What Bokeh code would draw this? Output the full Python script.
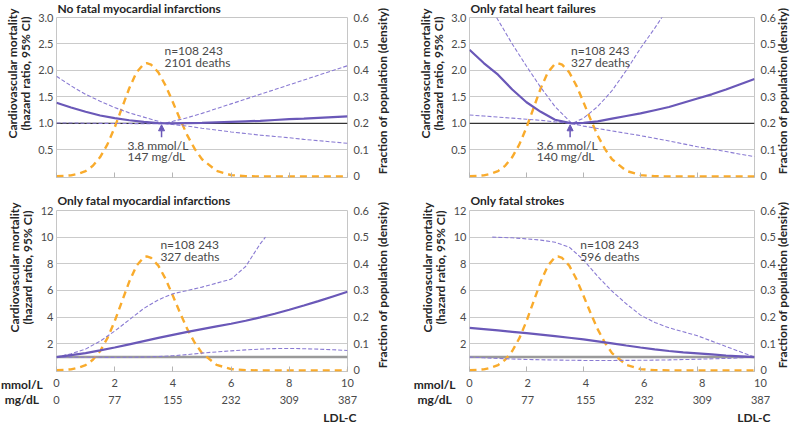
from math import pi
from bokeh.plotting import figure
from bokeh.models import (Range1d, LinearAxis, FixedTicker, NumeralTickFormatter,
                          Label, Span, Arrow, NormalHead, Title)
from bokeh.core.properties import value
from bokeh.layouts import column, row
from bokeh.embed import file_html
from bokeh.resources import INLINE

FONT = "Lato"
PURPLE = "#6a58b8"
PURPLE_CI = "#8a7bd3"
ORANGE = "#f9ab2c"
GRID = "#cbcbcb"
TXT = "#4a4a4a"
DARK = "#262626"

# ---------------- data ----------------
# population density of LDL-C (mmol/L) - same in all panels
dens_x = [0, 0.25, 0.5, 0.75, 1.0, 1.25, 1.5, 1.75, 2.0, 2.25, 2.5, 2.75, 3.0, 3.1,
          3.25, 3.5, 3.75, 4.0, 4.25, 4.5, 4.75, 5.0, 5.5, 6.0, 6.5, 7.0, 8.0, 9.0, 10.0]
dens_y = [0.001, 0.002, 0.004, 0.010, 0.020, 0.040, 0.073, 0.121, 0.185, 0.259, 0.333, 0.393,
          0.425, 0.4275, 0.422, 0.393, 0.343, 0.280, 0.215, 0.154, 0.104, 0.065, 0.021,
          0.005, 0.001, 0.0, 0.0, 0.0, 0.0]

# No fatal myocardial infarctions
nfmi_x = [0, 0.5, 1, 1.5, 2, 2.5, 3, 3.5, 4, 4.5, 5, 5.5, 6, 6.5, 7, 7.5, 8, 8.5, 9, 9.5, 10]
nfmi_hr = [1.39, 1.30, 1.22, 1.15, 1.10, 1.06, 1.03, 1.005, 1.00, 1.005, 1.01, 1.02, 1.03,
           1.04, 1.05, 1.065, 1.08, 1.09, 1.105, 1.12, 1.135]
nfmi_ci_x = [0, 0.5, 1, 1.5, 2, 2.5, 3, 3.5, 3.7, 4, 4.5, 5, 5.5, 6, 6.5, 7, 7.5, 8, 8.5, 9, 9.5, 10]
nfmi_up = [1.89, 1.71, 1.55, 1.42, 1.30, 1.20, 1.12, 1.04, 1.00, 1.04, 1.11, 1.19, 1.28, 1.37,
           1.46, 1.55, 1.64, 1.73, 1.82, 1.91, 2.00, 2.09]
nfmi_lo = [1.01, 1.008, 1.005, 1.002, 1.0, 0.998, 0.995, 0.995, 1.0, 0.98, 0.95, 0.91, 0.875,
           0.84, 0.81, 0.78, 0.755, 0.73, 0.70, 0.675, 0.65, 0.625]

# Only fatal heart failures
hf_x = [0, 0.5, 1, 1.5, 2, 2.5, 3, 3.5, 3.6, 4, 4.5, 5, 5.5, 6, 6.5, 7, 7.5, 8, 8.5, 9, 9.5, 10]
hf_hr = [2.39, 2.14, 1.92, 1.64, 1.40, 1.22, 1.07, 1.01, 1.0, 1.01, 1.04, 1.09, 1.14, 1.19,
         1.25, 1.31, 1.39, 1.47, 1.55, 1.64, 1.74, 1.84]
hf_up_x = [0.95, 1.5, 2, 2.5, 3, 3.5, 3.6, 4, 4.5, 5, 5.5, 6, 6.5, 6.85]
hf_up = [3.0, 2.50, 2.08, 1.68, 1.32, 1.05, 1.0, 1.10, 1.32, 1.62, 2.0, 2.42, 2.8, 3.08]
hf_lo = [1.16, 1.14, 1.12, 1.10, 1.08, 1.06, 1.03, 1.005, 1.0, 0.95, 0.905, 0.86, 0.815, 0.77,
         0.72, 0.67, 0.615, 0.56, 0.515, 0.47, 0.42, 0.375]

# Only fatal myocardial infarctions
fmi_x = [0, 0.5, 1, 1.5, 2, 2.5, 3, 3.5, 4, 4.5, 5, 5.5, 6, 6.5, 7, 7.5, 8, 8.5, 9, 9.5, 10]
fmi_hr = [1.0, 1.15, 1.3, 1.5, 1.72, 1.96, 2.2, 2.44, 2.67, 2.89, 3.1, 3.3, 3.5, 3.73, 3.98,
          4.25, 4.55, 4.87, 5.2, 5.55, 5.9]
fmi_up_x = [0, 0.5, 1, 1.5, 2, 2.5, 3, 3.5, 4, 4.5, 5, 5.5, 6, 6.5, 7, 7.18]
fmi_up = [1.0, 1.25, 1.6, 2.2, 2.95, 3.8, 4.65, 5.3, 5.75, 6.0, 6.25, 6.55, 6.85, 7.8, 9.5, 10.0]
fmi_lo = [1.0, 0.995, 0.99, 0.985, 0.98, 0.99, 1.0, 1.04, 1.1, 1.19, 1.3, 1.39, 1.47, 1.54,
          1.6, 1.64, 1.65, 1.63, 1.6, 1.55, 1.5]

# Only fatal strokes
st_x = [0, 0.5, 1, 1.5, 2, 2.5, 3, 3.5, 4, 4.5, 5, 5.5, 6, 6.5, 7, 7.5, 8, 8.5, 9, 9.5, 10]
st_hr = [3.2, 3.1, 3.0, 2.9, 2.8, 2.69, 2.57, 2.45, 2.33, 2.18, 2.03, 1.87, 1.72, 1.58, 1.46,
         1.36, 1.28, 1.2, 1.12, 1.06, 1.0]
st_up_x = [0.8, 1.5, 2, 2.5, 3, 3.5, 4, 4.5, 5, 5.5, 6, 6.5, 7, 7.5, 8, 8.5, 9, 9.5, 10]
st_up = [10.0, 9.95, 9.87, 9.78, 9.62, 9.25, 8.3, 7.05, 5.95, 5.0, 4.15, 3.6, 3.2, 2.9, 2.6,
         2.2, 1.8, 1.4, 1.0]
st_lo_x = [0, 0.5, 1, 1.5, 2, 2.5, 3, 4, 5, 6, 7, 8, 9, 10]
st_lo = [1.0, 0.95, 0.9, 0.86, 0.82, 0.8, 0.78, 0.75, 0.75, 0.76, 0.79, 0.84, 0.9, 1.0]

mmol_ticks = [0, 2, 4, 6, 8, 10]
mmol_labels = ["0", "2", "4", "6", "8", "10"]
mgdl_labels = ["0", "77", "155", "232", "309", "387"]
top_y_ticks = [0.5, 1.0, 1.5, 2.0, 2.5, 3.0]
bot_y_ticks = [2, 4, 6, 8, 10, 12]
dens_ticks = [0, 0.1, 0.2, 0.3, 0.4, 0.5, 0.6]

titles = ["No fatal myocardial infarctions", "Only fatal heart failures",
          "Only fatal myocardial infarctions", "Only fatal strokes"]
n_text = "n=108 243"
deaths = ["2101 deaths", "327 deaths", "327 deaths", "596 deaths"]
nadir_text = [("3.8 mmol/L", "147 mg/dL"), ("3.6 mmol/L", "140 mg/dL")]
nadir_x = [3.61, 3.53]
left_title = ["Cardiovascular mortality", "(hazard ratio, 95% CI)"]
right_title = "Fraction of population (density)"
unit_names = ["mmol/L", "mg/dL"]
x_title = "LDL-C"

# ---------------- layout (pixels) ----------------
W = 400
H_TOP, H_MID, H_STRIP = 190, 187, 47
BL_L, BR_L, BL_R, BR_R = 56, 69, 53, 40      # left/right borders for left & right columns
PX_PER_UNIT = (W - BL_L - BL_R) / 10.0
ROW_MMOL, ROW_MGDL, ROW_TITLE = 42, 25, 7    # text rows in the strip (pixels from its bottom)
ROW_UNIT1 = 40


def lbl(p, x, y, text, size="12px"):
    p.add_layout(Label(x=x, y=y, text=text, text_font=FONT, text_font_size=size,
                       text_align="left", text_baseline="middle", text_color=TXT))


def style_axis(ax, size="11px", color=TXT):
    ax.axis_line_color = None
    ax.major_tick_line_color = None
    ax.minor_tick_line_color = None
    ax.major_tick_out = 0
    ax.major_tick_in = 0
    ax.major_label_text_font = FONT
    ax.major_label_text_font_size = size
    ax.major_label_text_color = color


def title_obj(text, **kw):
    return Title(text=text, text_font=FONT, text_font_size="12px", text_font_style="bold",
                 text_color=DARK, **kw)


def panel(idx, y_end, y_ticks, y_fmt, height, bl, br, bt, bb, t_st, r_st, bottom):
    y0 = -y_end / 150.0
    p = figure(width=W, height=height, x_range=Range1d(0, 10),
               y_range=Range1d(y0, y_end), output_backend="svg", toolbar_location=None,
               min_border_left=bl, min_border_right=br, min_border_top=bt,
               min_border_bottom=bb, title=titles[idx])
    p.title.align = "left"
    p.title.offset = 1
    p.title.vertical_align = "top"
    p.title.standoff = t_st
    p.title.text_font = FONT
    p.title.text_font_size = "12px"
    p.title.text_font_style = "bold"
    p.title.text_color = DARK

    p.extra_y_ranges = {"dens": Range1d(y0 * 0.6 / y_end, 0.6)}
    p.outline_line_color = "#c6c6c6"
    p.xgrid.grid_line_color = None
    p.ygrid.ticker = FixedTicker(ticks=y_ticks)
    p.ygrid.grid_line_color = GRID
    p.ygrid.grid_line_width = 1.2

    ya = p.yaxis[0]
    ya.ticker = FixedTicker(ticks=y_ticks)
    ya.formatter = NumeralTickFormatter(format=y_fmt)
    style_axis(ya)
    ya.major_label_standoff = 3

    # left titles (two centred lines)
    p.add_layout(title_obj(left_title[1], align="left", offset=47, vertical_align="top",
                           standoff=1), "left")
    p.add_layout(title_obj(left_title[0], align="left", offset=39, vertical_align="top",
                           standoff=-9), "left")

    ra = LinearAxis(y_range_name="dens", ticker=FixedTicker(ticks=dens_ticks),
                    formatter=NumeralTickFormatter(format="0.[0]"))
    style_axis(ra)
    ra.major_label_standoff = 6
    p.add_layout(ra, "right")

    # right-hand title: one rotated label starting near density 0, reading upwards
    rt = LinearAxis(y_range_name="dens", ticker=FixedTicker(ticks=[0.008]),
                    major_label_overrides={0.008: right_title})
    style_axis(rt, "12px", DARK)
    rt.major_label_text_font_style = "bold"
    rt.major_label_orientation = pi / 2
    rt.major_label_standoff = r_st
    p.add_layout(rt, "right")

    xa = p.xaxis[0]
    xa.ticker = FixedTicker(ticks=mmol_ticks)
    style_axis(xa)
    xa.major_tick_in = 5
    xa.major_tick_line_color = "#b5b5b5"
    xa.major_label_standoff = 0
    xa.major_label_text_color = None

    p.add_layout(Span(location=1, dimension="width",
                      line_color="#9a9a9a" if bottom else "#333333",
                      line_width=2.5 if bottom else 1.2, level="underlay"))
    return p


def strip(bl, br, unit_x, ldl_x):
    # text rows under a bottom panel: same x scale (mmol/L) as the panel above it
    s = figure(width=W, height=H_STRIP,
               x_range=Range1d(-bl / PX_PER_UNIT, 10 + br / PX_PER_UNIT),
               y_range=Range1d(0, H_STRIP), output_backend="svg", toolbar_location=None,
               min_border=0, x_axis_location=None, y_axis_location=None)
    s.outline_line_color = None
    s.grid.visible = False
    common = dict(text_font=value(FONT), text_baseline="middle", text_color=TXT)
    s.text(x=mmol_ticks, y=[ROW_MMOL] * len(mmol_ticks), text=mmol_labels,
           text_align="center", text_font_size=value("11px"), **common)
    s.text(x=mmol_ticks, y=[ROW_MGDL] * len(mmol_ticks), text=mgdl_labels,
           text_align="center", text_font_size=value("11px"), **common)
    bold = dict(text_font=value(FONT), text_baseline="middle", text_color=DARK,
                text_font_style="bold", text_font_size=value("12px"))
    s.text(x=[unit_x, unit_x], y=[ROW_UNIT1, ROW_MGDL], text=unit_names, text_align="center",
           **bold)
    s.text(x=[ldl_x], y=[ROW_TITLE], text=[x_title], text_align="right", **bold)
    return s


def draw(p, hx, hr, ux, up, lx, lo):
    p.line(dens_x, dens_y, y_range_name="dens", line_color=ORANGE, line_width=2.4,
           line_dash="7 5")
    p.line(ux, up, line_color=PURPLE_CI, line_width=1.1, line_dash="4 2")
    p.line(lx, lo, line_color=PURPLE_CI, line_width=1.1, line_dash="4 2")
    p.line(hx, hr, line_color=PURPLE, line_width=2.2)


p1 = panel(0, 3.0, top_y_ticks, "0.0", H_TOP, BL_L, BL_R, 17, 13, 0, 11, False)
p2 = panel(1, 3.0, top_y_ticks, "0.0", H_TOP, BR_L, BR_R, 17, 13, 0, 4, False)
p3 = panel(2, 12.0, bot_y_ticks, "0", H_MID, BL_L, BL_R, 20, 6, 2, 11, True)
p4 = panel(3, 12.0, bot_y_ticks, "0", H_MID, BR_L, BR_R, 20, 6, 2, 4, True)
s3 = strip(BL_L, BL_R, -1.19, 10.31)
s4 = strip(BR_L, BR_R, -1.2, 10.34)

draw(p1, nfmi_x, nfmi_hr, nfmi_ci_x, nfmi_up, nfmi_ci_x, nfmi_lo)
draw(p2, hf_x, hf_hr, hf_up_x, hf_up, hf_x, hf_lo)
draw(p3, fmi_x, fmi_hr, fmi_up_x, fmi_up, fmi_x, fmi_lo)
draw(p4, st_x, st_hr, st_up_x, st_up, st_lo_x, st_lo)

# n / deaths texts
for p, xx, (ya_, yb_), d in [(p1, 3.71, (2.38, 2.15), deaths[0]),
                             (p2, 3.56, (2.38, 2.15), deaths[1]),
                             (p3, 3.57, (9.45, 8.55), deaths[2]),
                             (p4, 3.89, (9.45, 8.55), deaths[3])]:
    lbl(p, xx, ya_, n_text)
    lbl(p, xx, yb_, d)

# nadir arrows and texts
for p, nx, (t1, t2), tx in [(p1, nadir_x[0], nadir_text[0], 2.44),
                            (p2, nadir_x[1], nadir_text[1], 2.36)]:
    p.add_layout(Arrow(x_start=nx, y_start=0.74, x_end=nx, y_end=0.975,
                       line_color=PURPLE, line_width=1.5,
                       end=NormalHead(size=6, line_color=PURPLE, fill_color=PURPLE)))
    lbl(p, tx, 0.58, t1)
    lbl(p, tx, 0.38, t2)

page = column(row(p1, p2), row(p3, p4), row(s3, s4))

open("out.html", "w").write(file_html(page, INLINE))
